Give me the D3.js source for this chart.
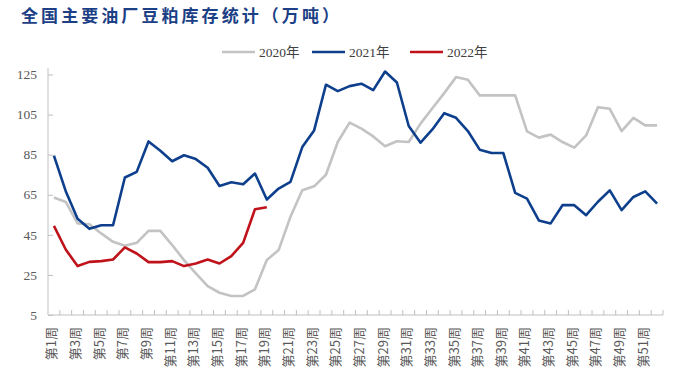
<!DOCTYPE html>
<html><head><meta charset="utf-8">
<script src="https://cdn.jsdelivr.net/npm/d3@7/dist/d3.min.js"></script>
<style>body{margin:0;background:#fff}svg{display:block}</style>
</head><body>
<svg id="c" width="682" height="378"></svg>
<script>
const title = "全国主要油厂豆粕库存统计（万吨）";
const weeks = d3.range(1, 53).map(i => "第" + i + "周");
const yTicks = [5, 25, 45, 65, 85, 105, 125];
const seriesNames = ["2020年", "2021年", "2022年"];
const seriesColors = ["#c3c3c3", "#0e3f8d", "#c0121a"];
const v2020 = [63.6,61.4,50.7,50.3,45.7,41.5,39.5,41,47,47,39.9,32.4,25.8,19.4,16.1,14.5,14.5,17.8,32.4,37.4,54,67.2,69.2,75,91.3,101,98,94.1,89.2,91.7,91.3,100.5,108.2,115.7,123.7,122.4,114.6,114.6,114.6,114.6,96.6,93.5,95,91.3,88.5,94.6,108.7,107.9,96.8,103.4,99.6,99.6];
const v2021 = [84.5,66.8,53,48,49.8,49.8,73.6,76.4,91.6,87,81.7,84.7,82.8,78.5,69.4,71.2,70.2,75.6,62.6,68.1,71.4,88.8,97.1,119.9,116.7,119.2,120.4,117.2,126.5,121,99.3,91,97.6,105.7,103.4,96.8,87.5,85.8,85.8,65.9,63.1,52.2,50.7,59.8,59.8,54.8,61.5,67.2,57.3,63.9,66.7,60.6];
const v2022 = [49.5,37.7,29.4,31.5,31.9,32.7,38.7,35.7,31.4,31.4,31.9,29.4,30.7,32.7,30.7,34.4,41,57.8,58.8];
const seriesValues = [v2020, v2021, v2022];

const svg = d3.select("#c");
const m = {l: 48, r: 663, t: 68, b: 315};
const x = d3.scaleBand().domain(weeks).range([m.l, m.r]);
const y = d3.scaleLinear().domain([5, 125]).range([m.b, 74.5]);
const axisColor = "#bfbfbf";

svg.append("text").attr("x", 21).attr("y", 22)
  .attr("font-family", "'Noto Sans CJK SC', sans-serif").attr("font-weight", "bold")
  .attr("font-size", 17).attr("fill", "#1c3f86")
  .attr("textLength", 318).attr("lengthAdjust", "spacing").text(title);

// y axis
const ya = svg.append("g").attr("transform", `translate(${m.l},0)`)
  .call(d3.axisRight(y).tickValues(yTicks).tickSize(5).tickFormat(""));
ya.select(".domain").attr("stroke", axisColor).attr("d", `M0,${m.t}V${m.b}`);
ya.selectAll(".tick line").attr("stroke", axisColor);
svg.append("g").selectAll("text").data(yTicks).join("text")
  .attr("x", 37).attr("y", d => y(d)).attr("dy", "0.35em").attr("text-anchor", "end")
  .attr("font-family", "'Liberation Serif', serif").attr("font-size", 13.5).attr("fill", "#595959")
  .text(d => d);

// x axis
const xa = svg.append("g").attr("transform", `translate(0,${m.b})`);
xa.append("line").attr("x1", m.l).attr("x2", m.r).attr("stroke", axisColor);
xa.selectAll("line.t").data(weeks).join("line").attr("class", "t")
  .attr("x1", d => x(d) + x.bandwidth()).attr("x2", d => x(d) + x.bandwidth())
  .attr("y1", 0).attr("y2", -5).attr("stroke", axisColor);
svg.append("g").selectAll("text").data(weeks.filter((d, i) => i % 2 === 0)).join("text")
  .attr("transform", d => `translate(${x(d) + x.bandwidth() / 2 + 2.5},327) rotate(-90)`)
  .attr("text-anchor", "end")
  .attr("font-family", "'Noto Sans CJK SC', sans-serif").attr("font-size", 13).attr("fill", "#595959")
  .text(d => d);

// lines
const line = d3.line().x((d, i) => x(weeks[i]) + x.bandwidth() / 2).y(d => y(d));
seriesValues.forEach((vals, k) => {
  svg.append("path").datum(vals).attr("d", line).attr("fill", "none")
    .attr("stroke", seriesColors[k]).attr("stroke-width", 2.6).attr("stroke-linejoin", "round");
});

// legend
const legX = [222, 312, 410];
seriesNames.forEach((n, k) => {
  svg.append("line").attr("x1", legX[k]).attr("x2", legX[k] + 33).attr("y1", 52).attr("y2", 52)
    .attr("stroke", seriesColors[k]).attr("stroke-width", 2.6);
  svg.append("text").attr("x", legX[k] + 37).attr("y", 52).attr("dy", "0.35em")
    .attr("font-family", "'Liberation Serif', 'Noto Sans CJK SC', serif").attr("font-size", 13.5)
    .attr("fill", "#404040").text(n);
});
</script>
</body></html>
